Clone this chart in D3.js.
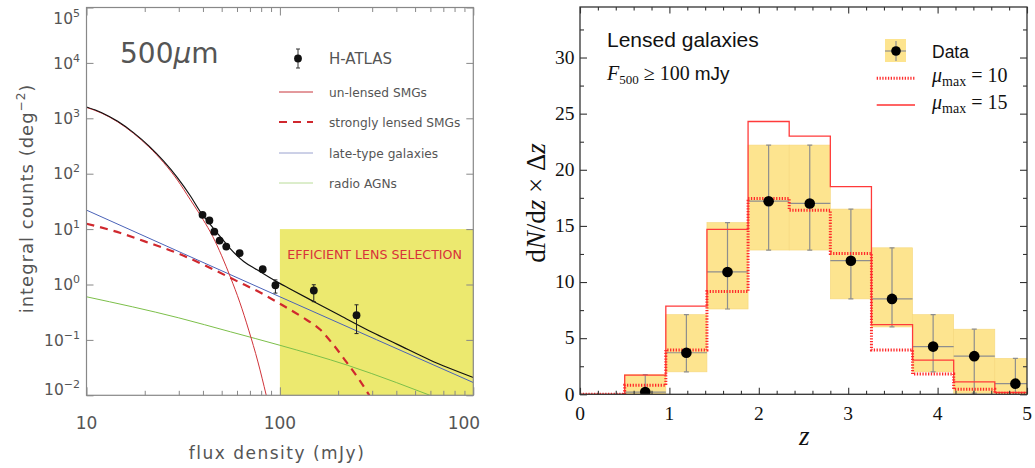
<!DOCTYPE html>
<html>
<head>
<meta charset="utf-8">
<script src="https://cdn.jsdelivr.net/npm/d3@7"></script>
<style>
body { margin: 0; background: #fff; }
svg { display: block; }
.lbl { font-family: "DejaVu Sans", sans-serif; fill: #555; }
.ser { font-family: "Liberation Serif", serif; fill: #111; }
.sans { font-family: "Liberation Sans", sans-serif; fill: #111; }
</style>
</head>
<body>
<div id="main"></div>
<script>
const ctx = { w: 1035, h: 468 };

// ---------- left panel: 500um integral counts ----------
const fluxTicks = [10, 100, 1000];
const fluxMinor = [20, 30, 40, 50, 60, 70, 80, 90, 200, 300, 400, 500, 600, 700, 800, 900];
const countTicks = [1e-2, 1e-1, 1, 1e1, 1e2, 1e3, 1e4, 1e5];

// H-ATLAS counts
const atlasFlux = [39.8, 43.2, 45.8, 48.8, 52.8, 61.9, 81.5, 94.8, 149.7, 249];
const atlasCounts = [18.1, 14.3, 9.0, 6.2, 4.84, 3.68, 1.89, 0.97, 0.78, 0.28];
const atlasLo = [16.9, 13.3, 8.3, 5.7, 4.4, 3.3, 1.7, 0.70, 0.49, 0.13];
const atlasHi = [19.4, 15.4, 9.8, 6.8, 5.3, 4.1, 2.1, 1.21, 0.99, 0.43];

// model curves
const totFlux = [10, 12, 14.5, 17.5, 21, 25, 29.5, 34.4, 39, 43.6, 50, 55.5, 65, 76.2, 95, 113, 150, 205, 300, 405, 600, 1000];
const totCounts = [1600, 1262, 881, 551, 318, 170, 85, 40, 20, 12.2, 6.8, 4.4, 2.6, 1.84, 1.15, 0.83, 0.49, 0.275, 0.137, 0.083, 0.043, 0.021];
const unlFlux = [10, 12, 14.5, 17.5, 21, 25, 29.5, 34.4, 37, 40, 45, 50, 55.5, 62, 69, 77, 85];
const unlCounts = [1570, 1235, 860, 535, 305, 160, 77, 34, 23, 15, 7.3, 3.3, 1.35, 0.48, 0.15, 0.04, 0.01];
const lensFlux = [10, 15, 20, 30, 40, 60, 80, 100, 130, 162, 190, 223, 255, 290];
const lensCounts = [12.5, 8.5, 6, 3.6, 2.3, 1.15, 0.7, 0.45, 0.26, 0.152, 0.08, 0.038, 0.02, 0.01];
const lateFlux = [10, 100, 1000];
const lateCounts = [22, 0.6, 0.017];
const agnFlux = [10, 30, 55.5, 100, 223, 400, 597];
const agnCounts = [0.6, 0.25, 0.14, 0.08, 0.035, 0.017, 0.01];

// efficient lens selection region
const selFlux = [100, 1000];
const selCounts = [1e-2, 10];

// ---------- right panel: redshift distribution ----------
const zTicks = [0, 1, 2, 3, 4, 5];
const nTicks = [0, 5, 10, 15, 20, 25, 30];
const zEdges = [0.5, 0.96, 1.42, 1.88, 2.34, 2.80, 3.26, 3.72, 4.18, 4.64, 5.10];
const zMid = [0.73, 1.19, 1.65, 2.11, 2.57, 3.03, 3.49, 3.95, 4.41, 4.87];
const nData = [0.2, 3.7, 10.9, 17.2, 17.0, 11.9, 8.5, 4.25, 3.4, 0.95];
const nLo = [0, 2.0, 7.6, 12.85, 12.85, 8.5, 6.0, 2.0, 0.1, 0];
const nHi = [1.75, 7.1, 15.3, 22.2, 22.2, 16.5, 13.05, 7.1, 5.8, 3.2];
const modelEdges = [0, 0.5, 0.96, 1.42, 1.88, 2.34, 2.80, 3.26, 3.72, 4.18, 4.64, 5.10];
const mu10 = [0, 0.8, 3.95, 9.15, 17.45, 16.4, 12.55, 3.95, 1.8, 0.45, 0.1];
const mu15 = [0, 1.7, 7.85, 14.7, 24.3, 23.0, 18.5, 6.2, 3.05, 1.1, 0.18];

function zip(a, b) { return a.map((v, i) => [v, b[i]]); }
function steps(edges, vals) {
    let pts = vals.map((v, i) => [edges[i], v]);
    pts.push([edges[edges.length - 1], vals[vals.length - 1]]);
    return pts;
}

function drawLeft(svg) {
    let x = d3.scaleLog().domain([10, 1000]).range([86.5, 473.3]);
    let y = d3.scaleLog().domain([1e-2, 1e5]).range([395.3, 7.5]);
    let g = svg.append("g").attr("id", "leftG");
    g.append("clipPath").attr("id", "clipL").append("rect")
        .attr("x", 86.5).attr("y", 7.5).attr("width", 386.8).attr("height", 387.8);
    g.append("clipPath").attr("id", "clipLab").append("rect")
        .attr("x", 0).attr("y", 0).attr("width", 480).attr("height", ctx.h);

    // yellow selection box
    g.append("rect")
        .attr("x", x(selFlux[0])).attr("y", y(selCounts[1]))
        .attr("width", x(selFlux[1]) - x(selFlux[0]))
        .attr("height", y(selCounts[0]) - y(selCounts[1]))
        .attr("fill", "#ece96f");
    g.append("text").attr("class", "lbl")
        .attr("x", 287.3).attr("y", 259.3)
        .attr("font-size", 12.6).style("fill", "#d8323a")
        .text("EFFICIENT LENS SELECTION");

    // curves
    let line = d3.line().x(d => x(d[0])).y(d => y(d[1])).curve(d3.curveMonotoneX);
    let cg = g.append("g").attr("clip-path", "url(#clipL)");
    let curves = [
        { d: zip(agnFlux, agnCounts), c: "#7cbf4a", w: 1, dash: null },
        { d: zip(lateFlux, lateCounts), c: "#4a62b8", w: 1, dash: null },
        { d: zip(unlFlux, unlCounts), c: "#d0343a", w: 1, dash: null },
        { d: zip(lensFlux, lensCounts), c: "#d0282e", w: 2.2, dash: "8,6" },
        { d: zip(totFlux, totCounts), c: "#111", w: 1.2, dash: null }
    ];
    curves.forEach(cv => {
        cg.append("path").datum(cv.d)
            .attr("fill", "none").attr("stroke", cv.c)
            .attr("stroke-width", cv.w)
            .attr("stroke-dasharray", cv.dash)
            .attr("d", line);
    });

    // H-ATLAS data with error bars
    let pts = atlasFlux.map((f, i) => ({ f: f, n: atlasCounts[i], lo: atlasLo[i], hi: atlasHi[i] }));
    let pg = g.append("g");
    pg.selectAll("line.eb").data(pts).enter().append("line")
        .attr("x1", d => x(d.f)).attr("x2", d => x(d.f))
        .attr("y1", d => y(d.lo)).attr("y2", d => y(d.hi))
        .attr("stroke", "#222").attr("stroke-width", 1);
    ["lo", "hi"].forEach(k => {
        pg.selectAll("line.cap" + k).data(pts).enter().append("line")
            .attr("x1", d => x(d.f) - 2).attr("x2", d => x(d.f) + 2)
            .attr("y1", d => y(d[k])).attr("y2", d => y(d[k]))
            .attr("stroke", "#222").attr("stroke-width", 1);
    });
    pg.selectAll("circle").data(pts).enter().append("circle")
        .attr("cx", d => x(d.f)).attr("cy", d => y(d.n)).attr("r", 3.9)
        .attr("fill", "#111");

    // frame and ticks
    let axisCol = "#888";
    g.append("rect").attr("x", 86.5).attr("y", 7.5).attr("width", 386.8).attr("height", 387.8)
        .attr("fill", "none").attr("stroke", axisCol).attr("stroke-width", 1.2);
    let tk = [
        [d3.axisLeft(y).tickValues(countTicks).tickSize(-7), "translate(86.5,0)"],
        [d3.axisRight(y).tickValues(countTicks).tickSize(-7), "translate(473.3,0)"],
        [d3.axisBottom(x).tickValues(fluxTicks).tickSize(-8), "translate(0,395.3)"],
        [d3.axisBottom(x).tickValues(fluxMinor).tickSize(-4.5), "translate(0,395.3)"],
        [d3.axisTop(x).tickValues(fluxTicks).tickSize(-8), "translate(0,7.5)"],
        [d3.axisTop(x).tickValues(fluxMinor).tickSize(-4.5), "translate(0,7.5)"]
    ];
    tk.forEach(a => {
        let ag = g.append("g").attr("transform", a[1]).call(a[0].tickFormat(""));
        ag.select(".domain").remove();
        ag.selectAll("line").attr("stroke", axisCol);
    });

    // tick labels
    let yl = g.append("g").selectAll("text").data(countTicks).enter().append("text")
        .attr("class", "lbl").attr("text-anchor", "end")
        .attr("x", 80).attr("y", d => Math.min(Math.max(y(d), 18), 389) + 5.6);
    yl.append("tspan").attr("font-size", 15.5).text("10");
    yl.append("tspan").attr("font-size", 11).attr("dy", -7)
        .text(d => d3.format("d")(Math.round(Math.log10(d))));
    g.append("g").attr("clip-path", "url(#clipLab)")
        .selectAll("text").data(fluxTicks).enter().append("text")
        .attr("class", "lbl").attr("text-anchor", "middle").attr("font-size", 17)
        .attr("x", d => x(d) - (d === 1000 ? 4 : 0)).attr("y", 429)
        .text(d => d3.format("d")(d));

    // axis titles
    g.append("text").attr("class", "lbl").attr("text-anchor", "middle")
        .attr("font-size", 17).style("letter-spacing", "1.5px")
        .attr("x", 277).attr("y", 459).text("flux density (mJy)");
    let yt = g.append("text").attr("class", "lbl").attr("text-anchor", "middle")
        .attr("font-size", 18).style("letter-spacing", "1px")
        .attr("transform", "translate(33,198.5) rotate(-90)");
    yt.append("tspan").text("integral counts (deg");
    yt.append("tspan").attr("font-size", 12).attr("dy", -8).text("−2");
    yt.append("tspan").attr("dy", 8).text(")");

    // wavelength label
    let wl = g.append("text").attr("class", "lbl").attr("font-size", 28)
        .attr("x", 120).attr("y", 63.3);
    wl.append("tspan").text("500");
    wl.append("tspan").attr("font-style", "italic").text("μ");
    wl.append("tspan").text("m");

    // legend
    let lg = g.append("g");
    lg.append("line").attr("x1", 298).attr("x2", 298).attr("y1", 49).attr("y2", 68)
        .attr("stroke", "#333").attr("stroke-width", 1);
    [49, 68].forEach(v => lg.append("line").attr("x1", 296).attr("x2", 300)
        .attr("y1", v).attr("y2", v).attr("stroke", "#333"));
    lg.append("circle").attr("cx", 298).attr("cy", 58.5).attr("r", 3.9).attr("fill", "#111");
    lg.append("text").attr("class", "lbl").attr("font-size", 15)
        .attr("x", 329).attr("y", 64).text("H-ATLAS");
    let leg = [
        { t: "un-lensed SMGs", c: "#c8343a", w: 1, dash: null, y: 92 },
        { t: "strongly lensed SMGs", c: "#d0282e", w: 2.2, dash: "8,6", y: 122 },
        { t: "late-type galaxies", c: "#9aa2cf", w: 1, dash: null, y: 153 },
        { t: "radio AGNs", c: "#b9dc98", w: 1, dash: null, y: 183 }
    ];
    leg.forEach(l => {
        lg.append("line").attr("x1", 279).attr("x2", 313).attr("y1", l.y).attr("y2", l.y)
            .attr("stroke", l.c).attr("stroke-width", l.w).attr("stroke-dasharray", l.dash);
        lg.append("text").attr("class", "lbl").attr("font-size", 12.2)
            .attr("x", 329).attr("y", l.y + 4.5).text(l.t);
    });
}

function drawRight(svg) {
    let x = d3.scaleLinear().domain([0, 5]).range([580, 1027]);
    let y = d3.scaleLinear().domain([0, 34.5]).range([394.3, 7]);
    let g = svg.append("g").attr("id", "rightG");
    g.append("clipPath").attr("id", "clipR").append("rect")
        .attr("x", 580).attr("y", 7).attr("width", 447).attr("height", 387.3);
    let pg = g.append("g").attr("clip-path", "url(#clipR)");

    let bins = zMid.map((m, i) => ({ a: zEdges[i], b: zEdges[i + 1], m: m, n: nData[i], lo: nLo[i], hi: nHi[i] }));
    // yellow uncertainty boxes
    pg.selectAll("rect.box").data(bins).enter().append("rect")
        .attr("x", d => x(d.a)).attr("width", d => x(d.b) - x(d.a))
        .attr("y", d => y(d.hi)).attr("height", d => y(d.lo) - y(d.hi))
        .attr("fill", "#fde48f").attr("stroke", "#f6d77c").attr("stroke-width", 0.6);

    // error bars
    let eg = pg.append("g").attr("stroke", "#8e8e8e").attr("stroke-width", 1.2);
    eg.selectAll("line.v").data(bins).enter().append("line")
        .attr("x1", d => x(d.m)).attr("x2", d => x(d.m))
        .attr("y1", d => y(d.lo)).attr("y2", d => y(d.hi));
    eg.selectAll("line.h").data(bins).enter().append("line")
        .attr("x1", d => x(d.a)).attr("x2", d => x(d.b))
        .attr("y1", d => y(d.n)).attr("y2", d => y(d.n));
    ["lo", "hi"].forEach(k => {
        eg.selectAll("line.c" + k).data(bins).enter().append("line")
            .attr("x1", d => x(d.m) - 2.5).attr("x2", d => x(d.m) + 2.5)
            .attr("y1", d => y(d[k])).attr("y2", d => y(d[k]));
    });

    // model histograms
    let step = d3.line().x(d => x(d[0])).y(d => y(d[1])).curve(d3.curveStepAfter);
    pg.append("path").datum(steps(modelEdges, mu15))
        .attr("fill", "none").attr("stroke", "#ff3a3a").attr("stroke-width", 1.3)
        .attr("d", step);
    pg.append("path").datum(steps(modelEdges, mu10))
        .attr("fill", "none").attr("stroke", "#ff2a2a").attr("stroke-width", 3)
        .attr("stroke-dasharray", "1.3,1.5").attr("d", step);

    // data points
    pg.selectAll("circle").data(bins).enter().append("circle")
        .attr("cx", d => x(d.m)).attr("cy", d => y(d.n)).attr("r", 5.3)
        .attr("fill", "#000");

    // frame and ticks
    let axisCol = "#333";
    g.append("rect").attr("x", 580).attr("y", 7).attr("width", 447).attr("height", 387.3)
        .attr("fill", "none").attr("stroke", axisCol).attr("stroke-width", 1.3);
    let zMinor = d3.range(0.2, 5, 0.2).filter(v => Math.abs(v - Math.round(v)) > 0.01);
    let nMinor = d3.range(2.5, 34, 5);
    let tk = [
        [d3.axisLeft(y).tickValues(nTicks).tickSize(-7), "translate(580,0)"],
        [d3.axisLeft(y).tickValues(nMinor).tickSize(-4), "translate(580,0)"],
        [d3.axisRight(y).tickValues(nTicks).tickSize(-7), "translate(1027,0)"],
        [d3.axisRight(y).tickValues(nMinor).tickSize(-4), "translate(1027,0)"],
        [d3.axisBottom(x).tickValues(zTicks).tickSize(-6.5), "translate(0,394.3)"],
        [d3.axisBottom(x).tickValues(zMinor).tickSize(-3.5), "translate(0,394.3)"],
        [d3.axisTop(x).tickValues(zTicks).tickSize(-6.5), "translate(0,7)"],
        [d3.axisTop(x).tickValues(zMinor).tickSize(-3.5), "translate(0,7)"]
    ];
    tk.forEach(a => {
        let ag = g.append("g").attr("transform", a[1]).call(a[0].tickFormat(""));
        ag.select(".domain").remove();
        ag.selectAll("line").attr("stroke", axisCol).attr("stroke-width", 1.1);
    });

    g.append("g").selectAll("text").data(nTicks).enter().append("text")
        .attr("class", "ser").attr("font-size", 19.5).attr("text-anchor", "end")
        .attr("x", 574.5).attr("y", d => y(d) + 6.3).text(d => d);
    g.append("g").selectAll("text").data(zTicks).enter().append("text")
        .attr("class", "ser").attr("font-size", 19.5).attr("text-anchor", "middle")
        .attr("x", d => x(d)).attr("y", 419.5).text(d => d);

    // axis titles
    g.append("text").attr("class", "ser").attr("font-size", 27).attr("font-style", "italic")
        .attr("text-anchor", "middle").attr("x", 804.3).attr("y", 445).text("z");
    let yt = g.append("text").attr("class", "ser").attr("font-size", 27)
        .attr("text-anchor", "middle").attr("transform", "translate(545,203) rotate(-90)");
    yt.append("tspan").text("d");
    yt.append("tspan").attr("font-style", "italic").text("N");
    yt.append("tspan").text("/d");
    yt.append("tspan").attr("font-style", "italic").text("z");
    yt.append("tspan").text(" × Δ");
    yt.append("tspan").attr("font-style", "italic").text("z");

    // panel annotations
    g.append("text").attr("class", "sans").attr("font-size", 21)
        .attr("x", 607).attr("y", 46.7).text("Lensed galaxies");
    let ft = g.append("text").attr("class", "ser").attr("font-size", 20)
        .attr("x", 607).attr("y", 80);
    ft.append("tspan").attr("font-style", "italic").text("F");
    ft.append("tspan").attr("font-size", 13).attr("dy", 4).text("500");
    ft.append("tspan").attr("dy", -4).text(" ≥ 100 ");
    ft.append("tspan").attr("font-family", "Liberation Sans, sans-serif").attr("font-size", 19).text("mJy");

    // legend
    let lg = g.append("g");
    lg.append("rect").attr("x", 885).attr("y", 39).attr("width", 21).attr("height", 23)
        .attr("fill", "#fde48f");
    lg.append("line").attr("x1", 885).attr("x2", 906).attr("y1", 51).attr("y2", 51)
        .attr("stroke", "#8e8e8e").attr("stroke-width", 1.2);
    lg.append("line").attr("x1", 896).attr("x2", 896).attr("y1", 41).attr("y2", 61)
        .attr("stroke", "#8e8e8e").attr("stroke-width", 1.2);
    lg.append("circle").attr("cx", 896).attr("cy", 51).attr("r", 4.8).attr("fill", "#000");
    lg.append("text").attr("class", "sans").attr("font-size", 17.5)
        .attr("x", 932).attr("y", 57.5).text("Data");
    [{ v: "10", y: 78.3, dash: "1.3,1.5", w: 3, yb: 82 }, { v: "15", y: 105, dash: null, w: 1.3, yb: 109.3 }].forEach(l => {
        lg.append("line").attr("x1", 876.7).attr("x2", 915).attr("y1", l.y).attr("y2", l.y)
            .attr("stroke", "#ff3030").attr("stroke-width", l.w).attr("stroke-dasharray", l.dash);
        let t = lg.append("text").attr("class", "ser").attr("font-size", 20)
            .attr("x", 932).attr("y", l.yb);
        t.append("tspan").attr("font-style", "italic").text("μ");
        t.append("tspan").attr("font-size", 14).attr("dy", 4).text("max");
        t.append("tspan").attr("dy", -4).text(" = " + l.v);
    });
}

function createViz() {
    let svg = d3.select("#main").append("svg")
        .attr("width", ctx.w).attr("height", ctx.h);
    svg.append("rect").attr("width", ctx.w).attr("height", ctx.h).attr("fill", "#fff");
    drawLeft(svg);
    drawRight(svg);
}

createViz();
</script>
</body>
</html>
